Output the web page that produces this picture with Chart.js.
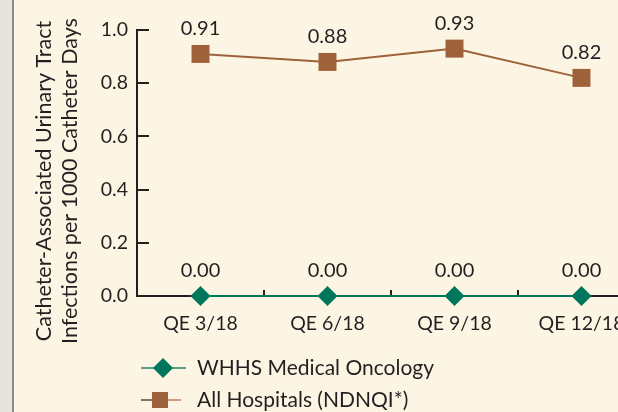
<!DOCTYPE html>
<html><head><meta charset="utf-8">
<script src="https://cdn.jsdelivr.net/npm/chart.js@4"></script>
<style>
html,body{margin:0;padding:0;overflow:hidden;background:#fdf5e4;width:618px;height:412px;}
#wrap{position:absolute;left:0;top:0;width:700px;height:412px;}
#strip{position:absolute;left:0;top:0;width:12px;height:412px;background:#e7e4df;border-right:2px solid #8c8c8c;}
</style></head><body>
<div id="wrap"><canvas id="c" width="700" height="412"></canvas></div>
<div id="strip"></div>
<script>
const categories = ['QE 3/18', 'QE 6/18', 'QE 9/18', 'QE 12/18'];
const whhsValues = [0.00, 0.00, 0.00, 0.00];
const allHospitalsValues = [0.91, 0.88, 0.93, 0.82];
const yTickValues = [0, 0.2, 0.4, 0.6, 0.8, 1.0];
const seriesLabels = ['WHHS Medical Oncology', 'All Hospitals (NDNQI*)'];
const yTitleLines = ['Catheter-Associated Urinary Tract', 'Infections per 1000 Catheter Days'];

const FONT = 'Lato';
const TEXT = '#231f20';
const GREEN = '#00775a';
const BROWN = '#9e623a';

const dataLabels = {
  id: 'dataLabels',
  afterDatasetsDraw(chart) {
    const ctx = chart.ctx;
    ctx.save();
    ctx.font = '20px ' + FONT;
    ctx.fillStyle = TEXT;
    ctx.textAlign = 'center';
    ctx.textBaseline = 'middle';
    chart.data.datasets.forEach((ds, i) => {
      chart.getDatasetMeta(i).data.forEach((el, j) => {
        ctx.fillText(ds.data[j].toFixed(2), el.x, el.y - 25);
      });
    });
    ctx.restore();
  }
};

const yTitle = {
  id: 'yTitle',
  afterDraw(chart) {
    const ctx = chart.ctx;
    ctx.save();
    ctx.font = '21.5px ' + FONT;
    ctx.fillStyle = TEXT;
    ctx.textAlign = 'center';
    ctx.textBaseline = 'middle';
    const xs = [44, 70];
    yTitleLines.forEach((t, i) => {
      ctx.save();
      ctx.translate(xs[i], 181);
      ctx.rotate(-Math.PI / 2);
      ctx.fillText(t, 0, 0);
      ctx.restore();
    });
    ctx.restore();
  }
};

const customLegend = {
  id: 'customLegend',
  afterDraw(chart) {
    const ctx = chart.ctx;
    ctx.save();
    chart.data.datasets.forEach((ds, i) => {
      const y = 368 + i * 32;
      const s = ds.legendStyle;
      ctx.lineWidth = 1.6;
      ctx.strokeStyle = s.leftColor;
      ctx.beginPath();
      ctx.moveTo(141, y);
      ctx.lineTo(s.px, y);
      ctx.stroke();
      ctx.strokeStyle = s.rightColor;
      ctx.beginPath();
      ctx.moveTo(s.px, y);
      ctx.lineTo(s.end, y);
      ctx.stroke();
      ctx.fillStyle = ds.pointBackgroundColor;
      Chart.helpers.drawPoint(ctx, {
        pointStyle: ds.pointStyle,
        radius: s.radius,
        rotation: 0,
        borderWidth: 0
      }, s.px, y);
      ctx.fillStyle = TEXT;
      ctx.font = '21px ' + FONT;
      ctx.textAlign = 'left';
      ctx.textBaseline = 'middle';
      ctx.fillText(ds.label, 197, y);
    });
    ctx.restore();
  }
};

new Chart(document.getElementById('c'), {
  type: 'line',
  data: {
    labels: categories,
    datasets: [
      {
        label: seriesLabels[0],
        data: whhsValues,
        borderColor: GREEN,
        backgroundColor: GREEN,
        pointBackgroundColor: GREEN,
        pointBorderWidth: 0,
        borderWidth: 2,
        pointStyle: 'rectRot',
        pointRadius: 10,
        legendStyle: { radius: 10, px: 163, end: 186, leftColor: '#2d8a6e', rightColor: '#2d8a6e' },
        clip: false,
        tension: 0
      },
      {
        label: seriesLabels[1],
        data: allHospitalsValues,
        borderColor: BROWN,
        backgroundColor: BROWN,
        pointBackgroundColor: BROWN,
        pointBorderWidth: 0,
        borderWidth: 2,
        pointStyle: 'rect',
        pointRadius: 12.7,
        legendStyle: { radius: 11.3, px: 160, end: 181, leftColor: '#5f5650', rightColor: '#c18a62' },
        clip: false,
        tension: 0
      }
    ]
  },
  options: {
    responsive: false,
    animation: false,
    events: [],
    layout: { padding: { left: 0, right: 55, top: 30, bottom: 76 } },
    plugins: { legend: { display: false }, tooltip: { enabled: false } },
    scales: {
      x: {
        offset: true,
        grid: { offset: true, drawOnChartArea: false, drawTicks: true, tickLength: -6, color: TEXT, lineWidth: 2 },
        border: { display: true, color: TEXT, width: 2 },
        ticks: { color: TEXT, font: { family: FONT, size: 19.5 }, padding: 22, maxRotation: 0, autoSkip: false },
        afterFit(s) { s.height = 40; }
      },
      y: {
        min: 0, max: 1,
        afterBuildTicks(s) { s.ticks = yTickValues.map(v => ({ value: v })); },
        grid: { drawOnChartArea: false, drawTicks: true, tickLength: -12, color: TEXT, lineWidth: 2 },
        border: { display: true, color: TEXT, width: 2 },
        ticks: { color: TEXT, font: { family: FONT, size: 19.5 }, padding: 21, callback: v => Number(v).toFixed(1) },
        afterFit(s) { s.width = 137; s.paddingTop = 10; s.paddingBottom = 10; }
      }
    }
  },
  plugins: [dataLabels, yTitle, customLegend]
});
</script>
</body></html>
